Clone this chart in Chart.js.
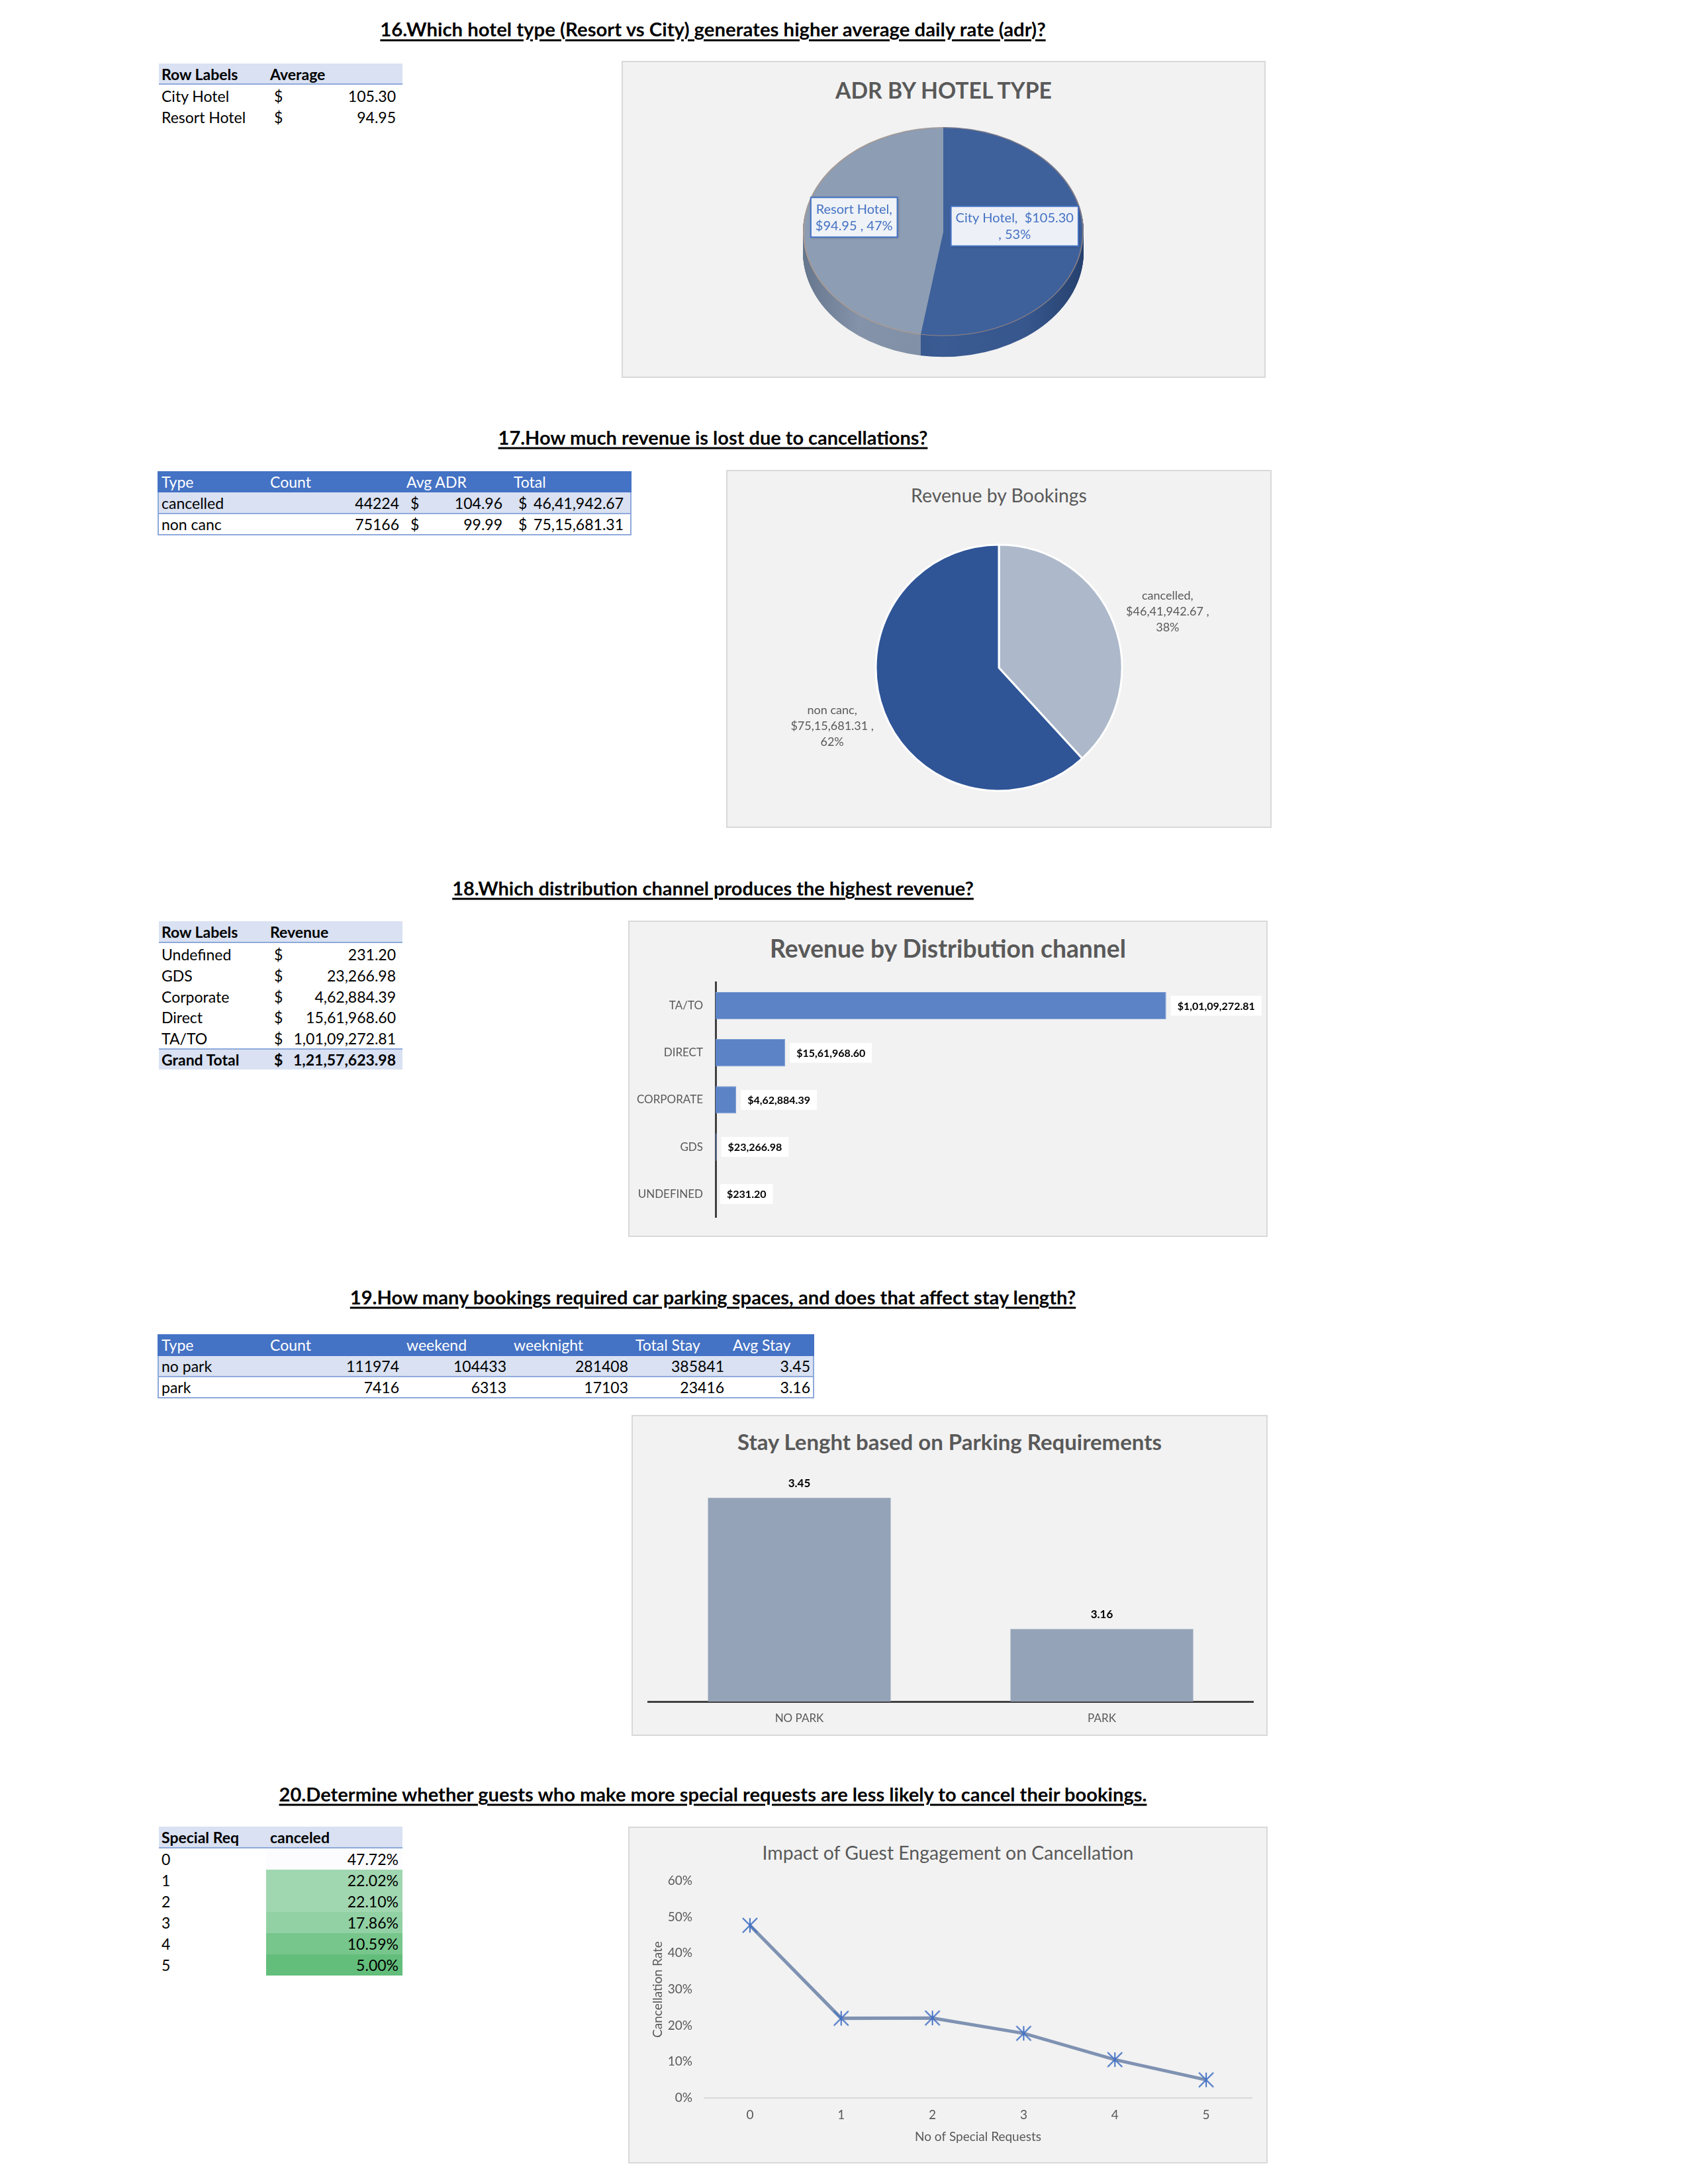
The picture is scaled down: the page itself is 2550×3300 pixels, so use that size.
<!DOCTYPE html>
<html><head><meta charset="utf-8">
<script src="https://cdn.jsdelivr.net/npm/chart.js@4.4.1/dist/chart.umd.min.js"></script>
<style>
html,body{margin:0;padding:0;background:#fff;}
body{width:2550px;height:3300px;position:relative;font-family:Lato,"Open Sans",sans-serif;overflow:hidden;}
canvas{position:absolute;left:0;top:0;}
</style></head><body>
<script>
// ---------------- DATA ----------------
const hotelTypes = ['City Hotel', 'Resort Hotel'];
const hotelAdr = [105.30, 94.95];

const bookingTypes = ['cancelled', 'non canc'];
const bookingCounts = [44224, 75166];
const bookingAvgAdr = [104.96, 99.99];
const bookingTotals = [4641942.67, 7515681.31];

const channels = ['Undefined', 'GDS', 'Corporate', 'Direct', 'TA/TO'];
const channelRevenue = [231.20, 23266.98, 462884.39, 1561968.60, 10109272.81];
const revenueAxisMax = 12000000;

const parkTypes = ['no park', 'park'];
const parkCounts = [111974, 7416];
const parkWeekend = [104433, 6313];
const parkWeeknight = [281408, 17103];
const parkTotalStay = [385841, 23416];
const parkAvgStay = [3.45, 3.16];
const stayAxisMin = 3.0, stayAxisMax = 3.5;

const specialReq = ['0', '1', '2', '3', '4', '5'];
const cancelRate = [47.72, 22.02, 22.10, 17.86, 10.59, 5.00];
const rateAxisMax = 60, rateStep = 10;

// ---------------- HELPERS ----------------
const FONT = 'Lato';
function inr(v){
  const parts = v.toFixed(2).split('.');
  let s = parts[0];
  if (s.length > 3){
    const last3 = s.slice(-3);
    let rest = s.slice(0, -3).replace(/\B(?=(\d{2})+(?!\d))/g, ',');
    s = rest + ',' + last3;
  }
  return s + '.' + parts[1];
}
function el(tag, css, text, parent){
  const e = document.createElement(tag);
  Object.assign(e.style, css);
  if (text != null) e.textContent = text;
  (parent || document.body).appendChild(e);
  return e;
}
function rect(x, y, w, h, c){ return el('div', {position:'absolute', left:x+'px', top:y+'px', width:w+'px', height:h+'px', background:c}); }
function frame(x, y, w, h, c){ return el('div', {position:'absolute', left:x+'px', top:y+'px', width:w+'px', height:h+'px', border:'2px solid '+c, boxSizing:'border-box'}); }
function txt(s, x, yc, o){
  o = o || {};
  return el('div', {position:'absolute', left:x+'px', top:(yc-16)+'px', height:'32px', lineHeight:'32px',
    fontSize:(o.size||23)+'px', fontWeight:o.bold?'700':'400', color:o.color||'#000', whiteSpace:'nowrap',
    transform:o.right?'translateX(-100%)':'none'}, s);
}
function fit(e, w, base){
  const cw = e.getBoundingClientRect().width;
  if (cw > 0) e.style.fontSize = (base * w / cw) + 'px';
}
function qtitle(s, yc, w){
  const e = el('div', {position:'absolute', left:'1077px', top:yc+'px', transform:'translate(-50%,-50%)',
    fontSize:'26px', fontWeight:'700', textDecoration:'underline', textDecorationThickness:'3px',
    textUnderlineOffset:'4px', whiteSpace:'nowrap', lineHeight:'1.2', color:'#000'}, s);
  fit(e, w, 26);
}
function chartBox(x, y, w, h, title, size, bold, tyc, tw){
  const b = el('div', {position:'absolute', left:x+'px', top:y+'px', width:w+'px', height:h+'px',
    background:'#F2F2F2', boxShadow:'inset 0 0 0 2px #D9D9D9'});
  const t = el('div', {position:'absolute', left:'50%', top:tyc+'px', transform:'translate(-50%,-50%)',
    fontSize:size+'px', fontWeight:bold?'700':'400', color:'#595959', whiteSpace:'nowrap', lineHeight:'1.2'}, title, b);
  fit(t, tw, size);
  const c = document.createElement('canvas');
  c.width = w; c.height = h; c.style.width = w+'px'; c.style.height = h+'px';
  b.appendChild(c);
  return c;
}
Chart.defaults.font.family = FONT;
Chart.defaults.animation = false;
Chart.defaults.events = [];
Chart.defaults.plugins.legend.display = false;
Chart.defaults.plugins.tooltip.enabled = false;
Chart.defaults.responsive = false;
Chart.defaults.devicePixelRatio = 1;

// ---------------- SECTION TITLES ----------------
qtitle('16.Which hotel type (Resort vs City) generates higher average daily rate (adr)?', 44, 1006);
qtitle('17.How much revenue is lost due to cancellations?', 661, 649);
qtitle('18.Which distribution channel produces the highest revenue?', 1342, 788);
qtitle('19.How many bookings required car parking spaces, and does that affect stay length?', 1959, 1097);
qtitle('20.Determine whether guests who make more special requests are less likely to cancel their bookings.', 2711, 1311);

// ---------------- TABLE 16 ----------------
rect(240, 96, 368, 31, '#D9E1F2'); rect(240, 126, 368, 2, '#8EA9DB');
txt('Row Labels', 244, 112, {bold:true}); txt('Average', 408, 112, {bold:true});
hotelTypes.forEach((h, i) => {
  const y = 145 + 32*i;
  txt(h, 244, y); txt('$', 414, y); txt(hotelAdr[i].toFixed(2), 598, y, {right:true});
});

// ---------------- TABLE 17 ----------------
rect(238, 744, 716, 32, '#D9E1F2');
rect(238, 775, 716, 2, '#8EA9DB');
frame(238, 712, 716, 97, '#8EA9DB');
rect(238, 712, 716, 32, '#4472C4');
[['Type',244],['Count',408],['Avg ADR',614],['Total',776]].forEach(h => txt(h[0], h[1], 728, {color:'#fff'}));
bookingTypes.forEach((t, i) => {
  const y = 760 + 32*i;
  txt(t, 244, y); txt(String(bookingCounts[i]), 603, y, {right:true});
  txt('$', 620, y); txt(bookingAvgAdr[i].toFixed(2), 759, y, {right:true});
  txt('$', 783, y); txt(inr(bookingTotals[i]), 942, y, {right:true});
});

// ---------------- TABLE 18 ----------------
rect(240, 1392, 368, 32, '#D9E1F2'); rect(240, 1423, 368, 2, '#8EA9DB');
txt('Row Labels', 244, 1408, {bold:true}); txt('Revenue', 408, 1408, {bold:true});
channels.forEach((c, i) => {
  const y = 1442 + 31.75*i;
  txt(c, 244, y); txt('$', 414, y); txt(inr(channelRevenue[i]), 598, y, {right:true});
});
rect(240, 1584, 368, 32, '#D9E1F2'); rect(240, 1584, 368, 2, '#8EA9DB');
const channelTotal = channelRevenue.reduce((a, b) => a + b, 0);
txt('Grand Total', 244, 1601, {bold:true}); txt('$', 414, 1601, {bold:true});
txt(inr(channelTotal), 598, 1601, {bold:true, right:true});

// ---------------- TABLE 19 ----------------
rect(238, 2049, 992, 31, '#D9E1F2');
rect(238, 2079, 992, 2, '#8EA9DB');
frame(238, 2016, 992, 97, '#8EA9DB');
rect(238, 2016, 992, 33, '#4472C4');
[['Type',244],['Count',408],['weekend',614],['weeknight',776],['Total Stay',960],['Avg Stay',1107]].forEach(h => txt(h[0], h[1], 2032, {color:'#fff'}));
parkTypes.forEach((t, i) => {
  const y = 2064 + 32*i;
  txt(t, 244, y);
  txt(String(parkCounts[i]), 603, y, {right:true});
  txt(String(parkWeekend[i]), 765, y, {right:true});
  txt(String(parkWeeknight[i]), 949, y, {right:true});
  txt(String(parkTotalStay[i]), 1094, y, {right:true});
  txt(parkAvgStay[i].toFixed(2), 1224, y, {right:true});
});

// ---------------- TABLE 20 ----------------
rect(240, 2760, 368, 32, '#D9E1F2'); rect(240, 2791, 368, 2, '#8EA9DB');
txt('Special Req', 244, 2776, {bold:true}); txt('canceled', 408, 2776, {bold:true});
const rMax = Math.max(...cancelRate), rMin = Math.min(...cancelRate);
function scaleColor(v){
  const f = (rMax - v) / (rMax - rMin);
  const a = [252,252,255], b = [99,190,123];
  return 'rgb(' + a.map((c, k) => Math.round(c + (b[k]-c)*f)).join(',') + ')';
}
specialReq.forEach((s, i) => {
  const top = 2793 + 32*i;
  rect(402, top, 206, 32, scaleColor(cancelRate[i]));
  txt(s, 244, top + 16);
  txt(cancelRate[i].toFixed(2) + '%', 602, top + 16, {right:true});
});

// ---------------- CHART 16: 3D PIE ----------------
const c16 = chartBox(939, 92, 973, 479, 'ADR BY HOTEL TYPE', 34, true, 44, 327);
const adrTotal = hotelAdr.reduce((a, b) => a + b, 0);
const pie3d = {
  id: 'pie3d',
  beforeDatasetsDraw(chart, args, o){
    const meta = chart.getDatasetMeta(0);
    const a0 = meta.data[0];
    const cx = a0.x, cy = a0.y, R = a0.outerRadius;
    const ctx = chart.ctx;
    ctx.save();
    ctx.translate(cx, cy); ctx.scale(1, o.sy); ctx.translate(-cx, -cy);
    const grads = o.side.map(stops => {
      const g = ctx.createLinearGradient(cx - R, 0, cx + R, 0);
      stops.forEach(s => g.addColorStop(s[0], s[1]));
      return g;
    });
    for (let d = o.depth; d > 0; d -= 1){
      meta.data.forEach((e, i) => {
        ctx.beginPath();
        ctx.moveTo(e.x, e.y + d);
        ctx.arc(e.x, e.y + d, e.outerRadius, e.startAngle, e.endAngle);
        ctx.closePath();
        ctx.fillStyle = grads[i];
        ctx.fill();
      });
    }
  },
  afterDatasetsDraw(chart, args, o){
    const ctx = chart.ctx;
    const meta = chart.getDatasetMeta(0);
    const a0 = meta.data[0];
    ctx.beginPath();
    ctx.arc(a0.x, a0.y, a0.outerRadius - 1, 0, Math.PI * 2);
    ctx.lineWidth = 1.5; ctx.strokeStyle = 'rgba(200,150,110,0.6)'; ctx.stroke();
    ctx.restore();
    const ds = chart.data.datasets[0].data;
    ctx.save();
    ctx.font = '20px ' + FONT;
    ctx.textAlign = 'center'; ctx.textBaseline = 'middle';
    meta.data.forEach((e, i) => {
      const mid = (e.startAngle + e.endAngle) / 2;
      const cx = e.x + Math.cos(mid) * e.outerRadius * 0.6 + o.nudge[i][0];
      const cy = e.y + Math.sin(mid) * e.outerRadius * 0.6 * o.sy + o.nudge[i][1];
      const lab = chart.data.labels[i];
      const val = '$' + ds[i].toFixed(2);
      const pct = Math.round(ds[i] / adrTotal * 100) + '%';
      const lines = i === 0 ? [lab + ',  ' + val, ', ' + pct] : [lab + ',', val + ' , ' + pct];
      const w = Math.max(...lines.map(l => ctx.measureText(l).width)) + 14;
      const h = 60;
      ctx.save();
      ctx.shadowColor = 'rgba(0,0,0,0.25)'; ctx.shadowBlur = 4; ctx.shadowOffsetX = 1; ctx.shadowOffsetY = 1;
      ctx.fillStyle = 'rgba(245,247,251,0.96)';
      ctx.fillRect(cx - w/2, cy - h/2, w, h);
      ctx.restore();
      ctx.lineWidth = 2; ctx.strokeStyle = '#4472C4';
      ctx.strokeRect(cx - w/2, cy - h/2, w, h);
      ctx.fillStyle = '#4472C4';
      lines.forEach((l, k) => ctx.fillText(l, cx, cy - 12 + 25*k));
    });
    ctx.restore();
  }
};
new Chart(c16, {
  type: 'pie',
  data: { labels: hotelTypes, datasets: [{ data: hotelAdr, backgroundColor: ['#3E619B', '#8D9DB3'],
    borderWidth: 0, hoverOffset: 0, clip: false }] },
  options: {
    layout: { padding: { left: 274, right: 275, top: 46, bottom: 9 } },
    plugins: { pie3d: { sy: 0.745, depth: 42,
      side: [[[0, '#2E4C80'], [0.5, '#3A5B93'], [0.8, '#36568C'], [1, '#26416E']],
             [[0, '#66768C'], [0.2, '#8493A9'], [0.5, '#7F8FA5'], [1, '#7F8FA5']]],
      nudge: [[-19, -16], [-8, -14]] } }
  },
  plugins: [pie3d]
});

// ---------------- CHART 17: PIE ----------------
const c17 = chartBox(1097, 710, 824, 541, 'Revenue by Bookings', 27, false, 38, 266);
const bookTotal = bookingTotals.reduce((a, b) => a + b, 0);
const outLabels = {
  id: 'outLabels',
  afterDatasetsDraw(chart, args, o){
    const ctx = chart.ctx, meta = chart.getDatasetMeta(0), ds = chart.data.datasets[0].data;
    ctx.save();
    ctx.font = '18px ' + FONT; ctx.fillStyle = '#595959';
    ctx.textAlign = 'center'; ctx.textBaseline = 'middle';
    meta.data.forEach((e, i) => {
      const mid = (e.startAngle + e.endAngle) / 2;
      const r = e.outerRadius * 1.43;
      const x = e.x + Math.cos(mid) * r + o.nudge[i][0], y = e.y + Math.sin(mid) * r + o.nudge[i][1];
      const lines = [chart.data.labels[i] + ',', '$' + inr(ds[i]) + ' ,', Math.round(ds[i] / bookTotal * 100) + '%'];
      lines.forEach((l, k) => ctx.fillText(l, x, y + (k - 1) * 24));
    });
    ctx.restore();
  }
};
new Chart(c17, {
  type: 'pie',
  data: { labels: bookingTypes, datasets: [{ data: bookingTotals, backgroundColor: ['#ADB9CA', '#2F5597'],
    borderColor: '#FFFFFF', borderWidth: 3, hoverOffset: 0 }] },
  options: { layout: { padding: { left: 224.5, right: 224.5, top: 111.5, bottom: 54.5 } },
    plugins: { outLabels: { nudge: [[7, 12], [-4, -8]] } } },
  plugins: [outLabels]
});

// ---------------- CHART 18: HORIZONTAL BAR ----------------
const c18 = chartBox(949, 1391, 966, 478, 'Revenue by Distribution channel', 33, true, 42, 538);
const barValueBoxes = {
  id: 'barValueBoxes',
  afterDatasetsDraw(chart){
    const ctx = chart.ctx, meta = chart.getDatasetMeta(0), ds = chart.data.datasets[0].data;
    ctx.save();
    ctx.font = 'bold 16px ' + FONT; ctx.textBaseline = 'middle';
    meta.data.forEach((b, i) => {
      const s = '$' + inr(ds[i]);
      const w = ctx.measureText(s).width + 20;
      const x0 = b.x + 7;
      ctx.fillStyle = '#FFFFFF'; ctx.fillRect(x0, b.y - 15, w, 30);
      ctx.fillStyle = '#000000'; ctx.fillText(s, x0 + 10, b.y + 1);
    });
    ctx.restore();
  }
};
new Chart(c18, {
  type: 'bar',
  data: { labels: channels, datasets: [{ data: channelRevenue, backgroundColor: '#5B83C6',
    borderColor: '#7B9BD3', borderWidth: 1, barPercentage: 0.58, categoryPercentage: 1 }] },
  options: {
    indexAxis: 'y',
    layout: { padding: { left: 0, right: 26, top: 93, bottom: 25 } },
    scales: {
      x: { display: false, min: 0, max: revenueAxisMax },
      y: { reverse: true, grid: { display: false, drawTicks: false },
        border: { display: true, color: '#404040', width: 3 },
        ticks: { color: '#595959', font: { size: 17 }, padding: 19,
          callback: (v, i) => channels[i].toUpperCase() },
        afterFit: s => { s.width = 132; } }
    }
  },
  plugins: [barValueBoxes]
});

// ---------------- CHART 19: COLUMN ----------------
const c19 = chartBox(954, 2138, 961, 485, 'Stay Lenght based on Parking Requirements', 29, true, 41, 641);
const colLabels = {
  id: 'colLabels',
  afterDatasetsDraw(chart){
    const ctx = chart.ctx, meta = chart.getDatasetMeta(0), ds = chart.data.datasets[0].data;
    ctx.save();
    ctx.font = 'bold 17px ' + FONT; ctx.fillStyle = '#000';
    ctx.textAlign = 'center'; ctx.textBaseline = 'middle';
    meta.data.forEach((b, i) => ctx.fillText(ds[i].toFixed(2), b.x, b.y - 22));
    ctx.restore();
  }
};
new Chart(c19, {
  type: 'bar',
  data: { labels: parkTypes, datasets: [{ data: parkAvgStay, backgroundColor: '#95A3B9',
    barPercentage: 0.604, categoryPercentage: 1 }] },
  options: {
    layout: { padding: { left: 25, right: 22, top: 91, bottom: 0 } },
    scales: {
      x: { grid: { display: false, drawTicks: false }, border: { display: true, color: '#404040', width: 3 },
        ticks: { color: '#595959', font: { size: 17 }, padding: 15,
          callback: (v, i) => parkTypes[i].toUpperCase() },
        afterFit: s => { s.height = 52; } },
      y: { display: false, min: stayAxisMin, max: stayAxisMax }
    }
  },
  plugins: [colLabels]
});

// ---------------- CHART 20: LINE ----------------
const c20 = chartBox(949, 2760, 966, 509, 'Impact of Guest Engagement on Cancellation', 27, false, 39, 561);
function starMarker(){
  const c = document.createElement('canvas');
  c.width = 26; c.height = 26;
  const g = c.getContext('2d');
  g.strokeStyle = '#4472C4'; g.lineWidth = 2;
  g.beginPath();
  g.moveTo(2, 2); g.lineTo(24, 24);
  g.moveTo(24, 2); g.lineTo(2, 24);
  g.moveTo(13, 2); g.lineTo(13, 24);
  g.stroke();
  return c;
}
new Chart(c20, {
  type: 'line',
  data: { labels: specialReq, datasets: [{ data: cancelRate, borderColor: '#7F92B2', borderWidth: 5,
    tension: 0, pointStyle: starMarker(), pointRadius: 13, fill: false }] },
  options: {
    layout: { padding: { left: 0, right: 24, top: 82, bottom: 0 } },
    scales: {
      x: { offset: true, grid: { display: false, drawTicks: false },
        border: { display: true, color: '#D9D9D9', width: 2 },
        ticks: { color: '#595959', font: { size: 19 }, padding: 14 },
        title: { display: true, text: 'No of Special Requests', color: '#595959', font: { size: 19 },
          padding: { top: 0, bottom: 29 } },
        afterFit: s => { s.height = 99; } },
      y: { min: 0, max: rateAxisMax,
        ticks: { stepSize: rateStep, callback: v => v + '%', color: '#595959', font: { size: 19 }, padding: 18 },
        grid: { display: false, drawTicks: false }, border: { display: false },
        title: { display: true, text: 'Cancellation Rate', color: '#595959', font: { size: 19 },
          padding: { top: 33, bottom: 0 } },
        afterFit: s => { s.width = 115; } }
    }
  }
});
</script>
</body></html>
